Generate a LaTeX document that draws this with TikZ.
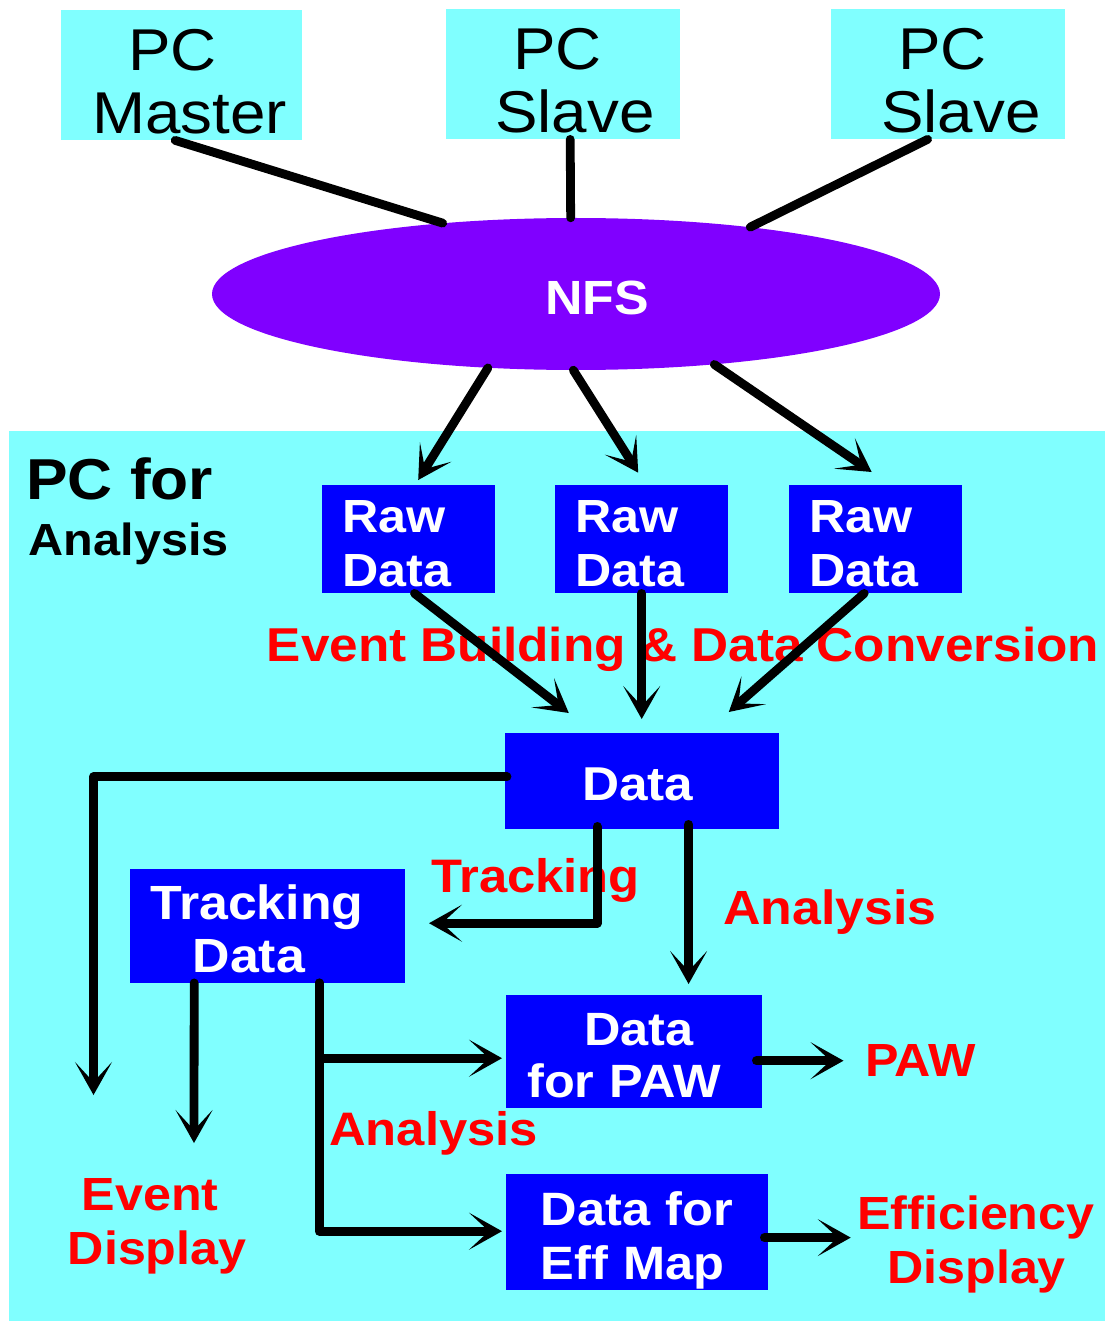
\documentclass[tikz,border=0pt]{standalone}
\usepackage{fontspec}
\setmainfont{Liberation Sans}[FakeStretch=1.08]
\usetikzlibrary{arrows.meta,shapes.geometric}
\definecolor{panel}{RGB}{128,255,255}
\definecolor{boxblue}{RGB}{0,0,255}
\definecolor{nfsviolet}{RGB}{128,0,255}
\definecolor{labelred}{RGB}{255,0,0}
\newcommand{\fsz}[2]{\fontsize{#1}{#2}\selectfont}

\begin{document}
\begin{tikzpicture}[x=1pt,y=-1pt,
  pcbox/.style={fill=panel, inner sep=0pt, anchor=north west, align=left,
    font=\fsz{59}{63}, text height=60pt, text depth=70pt},
  databox/.style={fill=boxblue, text=white, inner sep=0pt, anchor=north west,
    align=left, font=\bfseries\fsz{46.5}{54}},
  redlbl/.style={text=labelred, inner sep=0pt, anchor=base west, align=left,
    font=\bfseries\fsz{46.5}{54}},
  wire/.style={line width=8.8pt, line cap=round, line join=round},
  arr/.style={wire, -{Stealth[length=33pt, width=37pt, inset=20pt]}},
]
\useasboundingbox (0,0) rectangle (1105,1321);
\fill[white] (0,0) rectangle (1105,1321);

% analysis machine panel
\node[fill=panel, inner sep=0pt, anchor=north west, minimum width=1096pt,
  minimum height=890pt] (panel) at (9,431) {};

% computers on the network
\node[pcbox, text width=241pt] (master) at (61,10) {\hspace*{67pt}PC\\\hspace*{31pt}Master};
\node[pcbox, text width=234pt] (slaveA) at (446,9) {\hspace*{67pt}PC\\\hspace*{49pt}Slave};
\node[pcbox, text width=234pt] (slaveB) at (831,9) {\hspace*{67pt}PC\\\hspace*{50pt}Slave};

% shared file system
\node[ellipse, fill=nfsviolet, minimum width=728pt, minimum height=152pt, inner sep=0pt,
  text=white, font=\bfseries\fsz{48}{54}, text height=40pt, text depth=0pt] (nfs)
  at (576,294) {\hspace*{42pt}NFS};

% panel title (anchored at the baseline of its last line)
\node[inner sep=0pt, anchor=base west, align=left, font=\bfseries\fsz{57.7}{56}] (pcfor)
  at (26,555) {PC for\\\hspace*{2.6pt}{\fsz{45}{56}Analysis}};

% data stages
\node[databox, text width=172.6pt, text height=47pt, text depth=61pt] (rawA) at (322,485)
  {\hspace*{20pt}Raw\\\hspace*{20pt}Data};
\node[databox, text width=173pt, text height=47pt, text depth=61pt] (rawB) at (555,485)
  {\hspace*{20pt}Raw\\\hspace*{20pt}Data};
\node[databox, text width=173pt, text height=47pt, text depth=61pt] (rawC) at (789,485)
  {\hspace*{20pt}Raw\\\hspace*{20pt}Data};
\node[databox, font=\bfseries\fsz{47.5}{54}, text width=274pt, text height=67pt,
  text depth=29pt] (data) at (505,733) {\hspace*{77pt}Data};
\node[databox, font=\bfseries\fsz{48}{53.6}, text width=274.6pt, text height=50pt,
  text depth=63.5pt] (track) at (130,869) {\hspace*{20pt}Tracking\\\hspace*{62.5pt}Data};
\node[databox, font=\bfseries\fsz{46.7}{52}, text width=256pt, text height=50pt,
  text depth=63pt] (paw) at (506,995) {\hspace*{78pt}Data\\\hspace*{21pt}for PAW};
\node[databox, font=\bfseries\fsz{46.8}{54.5}, text width=262pt, text height=51pt,
  text depth=65pt] (eff) at (506,1174) {\hspace*{34.5pt}Data for\\\hspace*{34.6pt}Eff Ma\smash{p}};

% process and output labels (multi-line ones anchored at their last baseline)
\node[redlbl, font=\bfseries\fsz{47.5}{54}] (ebdc) at (266.6,661) {Event Building \& Data Conversion};
\node[redlbl, font=\bfseries\fsz{47}{54}] (trklbl) at (431,892) {Tracking};
\node[redlbl, font=\bfseries\fsz{48}{54}] (anlA) at (723,924) {Analysis};
\node[redlbl] (pawlbl) at (865,1076) {PAW};
\node[redlbl, font=\bfseries\fsz{47}{54}] (anlB) at (329,1145.6) {Analysis};
\node[redlbl] (evdisp) at (67.6,1264) {\hspace*{14pt}Event\\Display};
\node[redlbl] (effdisp) at (857,1283) {Efficiency\\\hspace*{30pt}Display};

% network links
\draw[wire] ([shift={(-6.5,0)}]master.south) -- (nfs.152.6);
\draw[wire] ([shift={(7,0)}]slaveA.south) -- (nfs.94.5);
\draw[wire] ([shift={(-20.6,0)}]slaveB.south) -- (nfs.21.5);

% raw data from the file system
\draw[arr] (nfs.220.4) -- ([shift={(9.7,-5)}]rawA.north);
\draw[arr] (nfs.268) -- ([shift={(-3.5,-12.3)}]rawB.north);
\draw[arr] (nfs.333.2) -- ([shift={(-4,-13)}]rawC.north);

% event building
\draw[arr] ([shift={(6,0)}]rawA.south) -- ([shift={(-73.4,-20)}]data.north);
\draw[arr] (rawB.south) -- ([shift={(-0.5,-14)}]data.north);
\draw[arr] ([shift={(-11.5,0)}]rawC.south) -- ([shift={(86.6,-21)}]data.north);

% event display branch
\coordinate (evtip) at (93.5,1095);
\draw[arr] ([shift={(2,-4.4)}]data.west) -| (evtip);

% tracking and analysis
\draw[arr] ([shift={(-45,-3)}]data.south) |- ([shift={(24,-2.75)}]track.east);
\draw[arr] ([shift={(46.4,-5)}]data.south) -- ([shift={(54.4,-11)}]paw.north);

\coordinate (tdtip) at (194,1143);
\draw[arr] ([shift={(-73.3,0)}]track.south) -- (tdtip);
\draw[arr] ([shift={(51.7,0)}]track.south) |- ([shift={(-4,6.5)}]paw.west);
\draw[arr] ([shift={(51.7,0)}]track.south) |- ([shift={(-4,-1)}]eff.west);

% outputs
\coordinate (pawout) at ([shift={(-6,9)}]paw.east);
\draw[arr, shorten >=21.5pt] (pawout) -- (pawout -| pawlbl.west);
\coordinate (effout) at ([shift={(-4,5.4)}]eff.east);
\draw[arr, shorten >=6.3pt] (effout) -- (effout -| effdisp.west);
\end{tikzpicture}
\end{document}
